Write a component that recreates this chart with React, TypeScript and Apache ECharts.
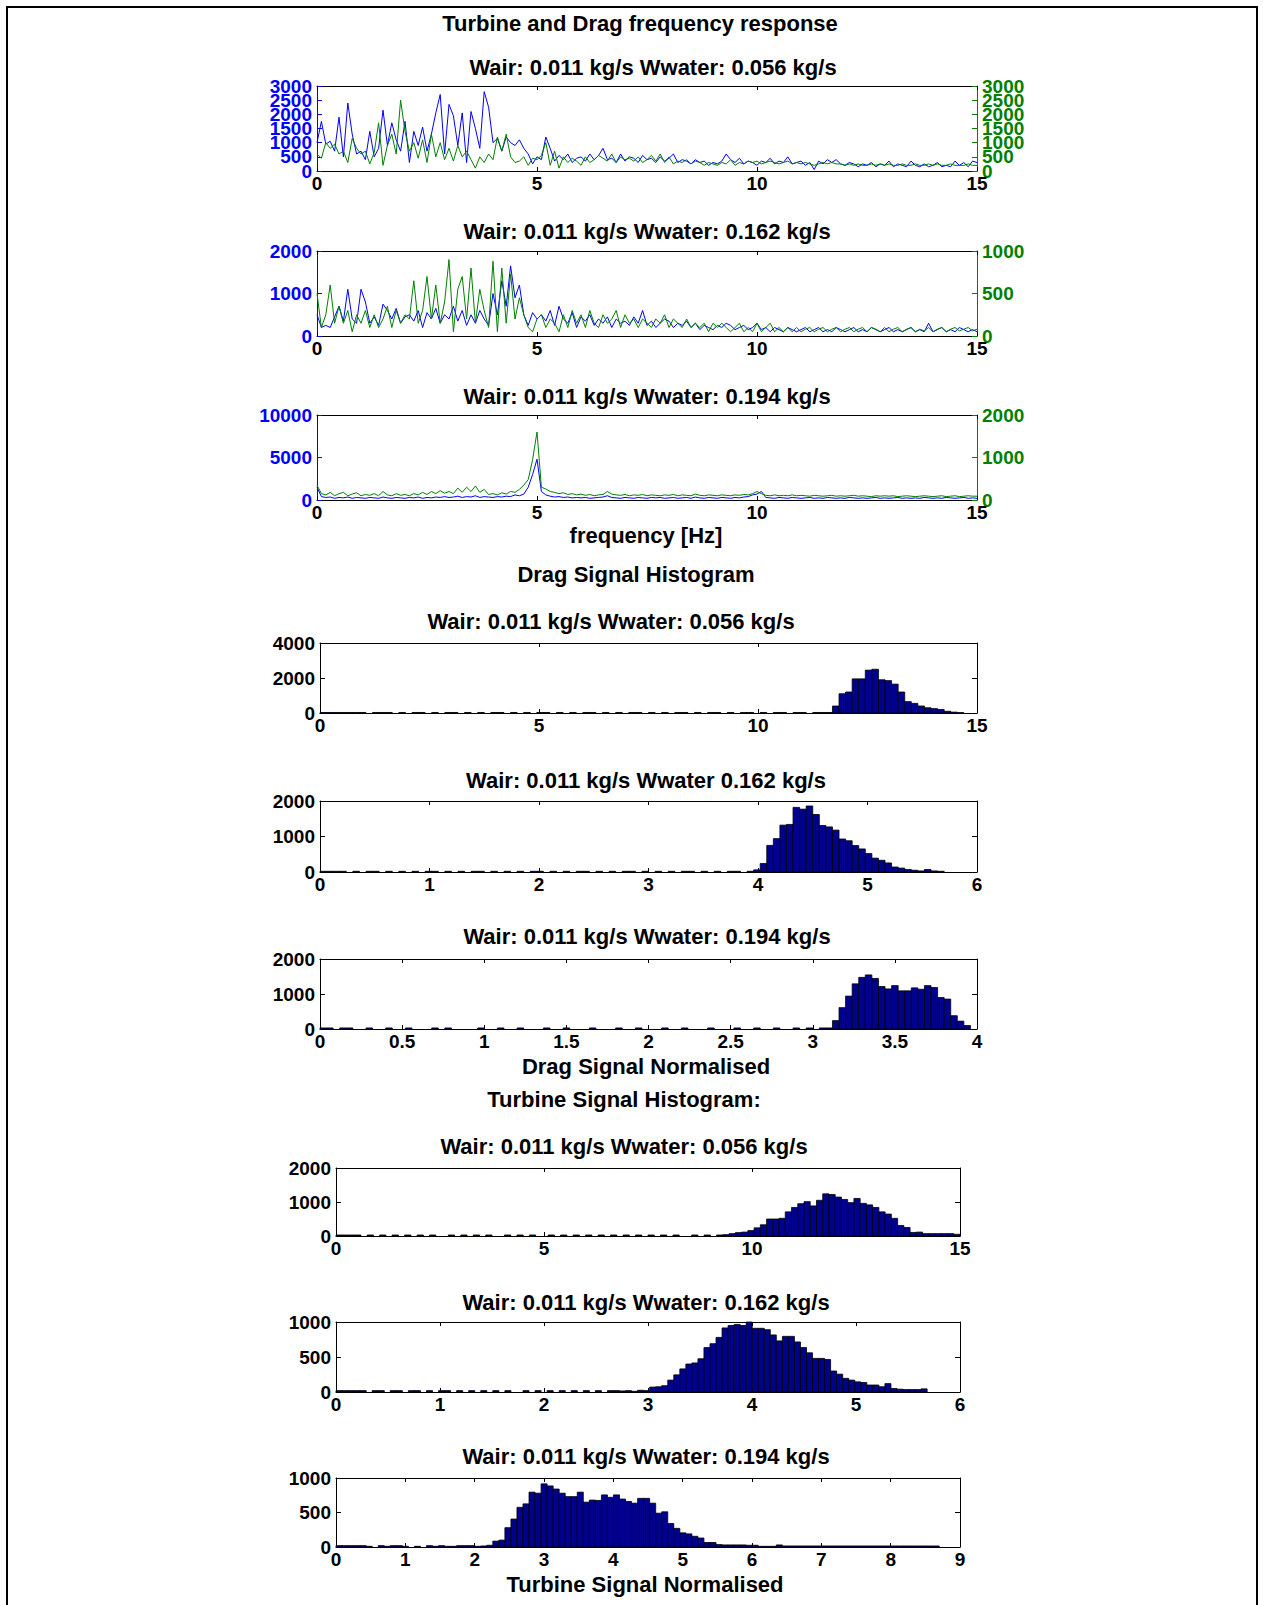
import React, { useEffect, useRef } from 'react';
import * as echarts from 'echarts';

// ---------------- DATA ----------------
const FREQ_STEP = 0.1; // Hz between spectrum samples (0..15 Hz)

// tick values of the dense first spectrum panel (both y axes)
const freq056Ticks = [0, 500, 1000, 1500, 2000, 2500, 3000];
const freq056LabelsA = [0, 1000, 2000, 3000];
const freq056LabelsB = [500, 1500, 2500];

const freq056Blue = [
  1000, 1750, 950, 1050, 700, 1900, 500, 2400, 1300, 600,
  700, 400, 1400, 500, 800, 2150, 900, 1700, 1100, 700,
  1750, 300, 1400, 900, 1550, 700, 1300, 2050, 2700, 600,
  2350, 1950, 900, 2050, 300, 2100, 1500, 800, 2800, 2250,
  1000, 1150, 700, 1200, 1000, 900, 1100, 800, 600, 250,
  500, 400, 1200, 800, 350, 550, 400, 600, 300, 450,
  500, 350, 600, 400, 550, 800, 400, 450, 300, 600,
  350, 500, 450, 300, 550, 400, 450, 300, 500, 350,
  450, 600, 300, 400, 350, 250, 400, 300, 350, 200,
  300, 250, 350, 600, 400, 300, 450, 250, 350, 300,
  200, 350, 300, 450, 250, 350, 300, 500, 250, 300,
  350, 200, 300, 50, 350, 250, 400, 300, 400, 250,
  200, 300, 250, 150, 250, 200, 300, 150, 250, 200,
  350, 150, 250, 200, 150, 350, 200, 150, 250, 150,
  200, 300, 150, 200, 150, 350, 200, 300, 150, 350,
  300,
];
const freq056Green = [
  600, 450, 1000, 800, 950, 600, 700, 300, 1150, 800,
  600, 700, 250, 650, 1700, 200, 900, 1300, 600, 2500,
  1400, 700, 1000, 450, 1100, 300, 1300, 500, 1000, 400,
  800, 350, 900, 500, 700, 400, 100, 500, 300, 600,
  400, 1200, 700, 1300, 500, 300, 350, 500, 200, 450,
  400, 550, 1000, 200, 700, 100, 500, 300, 450, 350,
  200, 500, 300, 400, 550, 450, 350, 600, 300, 500,
  400, 450, 350, 500, 300, 400, 550, 350, 600, 300,
  500, 250, 350, 300, 400, 250, 350, 300, 200, 300,
  250, 200, 300, 250, 400, 200, 300, 250, 350, 300,
  350, 250, 300, 350, 300, 250, 300, 350, 250, 300,
  250, 300, 250, 200, 250, 300, 250, 300, 250, 250,
  200, 250, 200, 250, 200, 200, 250, 200, 250, 200,
  250, 200, 200, 250, 200, 200, 250, 200, 200, 250,
  200, 250, 200, 200, 250, 200, 200, 200, 250, 200,
  200,
];

const freq162Blue = [
  500, 200, 250, 200, 450, 700, 350, 1100, 400, 300,
  1100, 800, 300, 450, 250, 750, 600, 400, 650, 300,
  450, 500, 350, 600, 200, 550, 400, 650, 300, 500,
  400, 700, 350, 600, 250, 500, 300, 600, 400, 250,
  1000, 500, 1300, 700, 1650, 900, 1200, 500, 250, 550,
  400, 500, 350, 600, 250, 700, 400, 300, 550, 200,
  450, 350, 500, 250, 400, 300, 450, 200, 400, 300,
  350, 250, 450, 300, 600, 250, 350, 200, 300, 400,
  350, 200, 300, 250, 350, 200, 300, 150, 250, 200,
  150, 250, 200, 300, 250, 150, 200, 250, 150, 200,
  300, 150, 200, 100, 200, 150, 100, 200, 150, 100,
  150, 200, 100, 150, 200, 100, 150, 100, 200, 150,
  100, 150, 200, 100, 150, 100, 200, 150, 100, 150,
  200, 100, 150, 100, 150, 200, 100, 150, 100, 300,
  100, 150, 200, 100, 150, 100, 200, 150, 100, 150,
  100,
];
const freq162Green = [
  500, 100, 250, 600, 150, 350, 150, 300, 50, 250,
  150, 300, 100, 250, 100, 200, 350, 100, 300, 150,
  250, 200, 650, 150, 300, 700, 200, 600, 150, 400,
  900, 50, 550, 700, 200, 800, 150, 550, 300, 100,
  880, 50, 800, 150, 730, 200, 450, 250, 100, 50,
  200, 250, 100, 200, 150, 50, 250, 100, 300, 150,
  250, 100, 300, 150, 100, 250, 150, 200, 300, 100,
  250, 150, 200, 100, 200, 150, 100, 200, 150, 250,
  100, 200, 150, 100, 200, 100, 150, 100, 150, 50,
  150, 100, 150, 100, 50, 100, 150, 50, 100, 50,
  150, 50, 100, 150, 50, 100, 50, 100, 50, 100,
  50, 80, 100, 50, 80, 100, 50, 80, 100, 50,
  80, 100, 50, 80, 100, 50, 100, 80, 50, 100,
  50, 80, 100, 50, 80, 100, 50, 80, 60, 100,
  50, 80, 100, 50, 80, 100, 60, 80, 100, 60,
  80,
];

const freq194Blue = [
  1500, 400, 300, 350, 200, 300, 250, 350, 200, 300,
  250, 200, 300, 250, 200, 350, 250, 200, 300, 250,
  200, 300, 250, 350, 200, 300, 250, 350, 300, 400,
  300, 350, 450, 300, 400, 350, 500, 300, 400, 350,
  300, 400, 350, 450, 400, 600, 500, 700, 1500, 3000,
  4800, 1000, 600, 450, 350, 400, 300, 350, 250, 300,
  250, 300, 200, 250, 300, 350, 500, 300, 250, 200,
  300, 250, 200, 300, 250, 200, 300, 250, 300, 200,
  250, 300, 200, 250, 300, 200, 350, 250, 200, 300,
  250, 200, 300, 250, 200, 300, 250, 350, 400, 600,
  700, 1000, 300, 250, 200, 300, 250, 200, 300, 250,
  200, 250, 300, 200, 250, 200, 300, 250, 200, 250,
  200, 300, 250, 200, 250, 200, 250, 300, 200, 250,
  200, 250, 300, 200, 250, 200, 250, 200, 300, 250,
  200, 250, 200, 300, 250, 200, 250, 300, 200, 250,
  200,
];
const freq194Green = [
  350, 150, 120, 180, 100, 150, 180, 100, 140, 170,
  100, 130, 110, 150, 100, 200, 120, 100, 150, 110,
  130, 100, 150, 120, 180, 130, 200, 150, 220, 160,
  200, 150, 280, 180, 300, 200, 330, 180, 250, 130,
  150, 120, 170, 140, 200, 180, 250, 350, 480, 950,
  1600, 300, 260, 200, 180, 150, 170, 130, 150, 120,
  140, 110, 130, 100, 120, 130, 200, 140, 120, 110,
  130, 100, 120, 110, 130, 100, 120, 110, 100, 120,
  110, 130, 100, 120, 110, 100, 140, 110, 100, 120,
  110, 100, 120, 110, 100, 120, 110, 130, 120, 150,
  200, 150, 110, 100, 120, 100, 110, 100, 120, 100,
  110, 100, 90, 110, 100, 90, 100, 110, 90, 100,
  90, 100, 110, 90, 100, 90, 80, 100, 90, 100,
  90, 100, 80, 90, 100, 90, 80, 90, 100, 90,
  80, 90, 100, 80, 90, 100, 80, 90, 100, 90,
  90,
];

// Histograms: counts per bin, bins start at 0
const dragHist056Width = 0.15;
const dragHist056Counts = [
  30, 30, 30, 30, 30, 30, 30, 0, 30, 30,
  30, 0, 30, 0, 30, 30, 0, 30, 0, 30,
  30, 0, 30, 0, 30, 0, 30, 30, 0, 30,
  0, 30, 0, 30, 30, 0, 30, 0, 30, 0,
  30, 30, 0, 30, 0, 30, 0, 30, 30, 0,
  30, 0, 30, 0, 30, 30, 0, 30, 0, 30,
  30, 0, 30, 0, 30, 30, 0, 30, 0, 30,
  30, 0, 30, 30, 0, 30, 30, 30, 400, 1100,
  1200, 1950, 1950, 2450, 2500, 1900, 1850, 1650, 1200, 650,
  550, 400, 300, 250, 200, 100, 50, 20, 0, 0,
];
const dragHist162Width = 0.06;
const dragHist162Counts = [
  20, 20, 20, 20, 0, 20, 0, 20, 20, 0,
  20, 0, 20, 0, 20, 0, 20, 20, 0, 20,
  0, 20, 0, 20, 20, 0, 20, 0, 20, 0,
  20, 0, 20, 20, 0, 20, 0, 20, 0, 20,
  20, 0, 20, 0, 20, 0, 20, 20, 0, 20,
  0, 20, 0, 20, 0, 20, 20, 0, 20, 0,
  20, 0, 20, 20, 0, 20, 60, 240, 750, 940,
  1320, 1340, 1820, 1770, 1860, 1620, 1310, 1270, 1180, 930,
  880, 745, 650, 520, 390, 330, 255, 140, 110, 70,
  50, 30, 70, 30, 20, 0, 0, 0, 0, 0,
];
const dragHist194Width = 0.04;
const dragHist194Counts = [
  30, 30, 0, 30, 30, 0, 0, 30, 0, 0,
  30, 0, 0, 30, 0, 0, 0, 30, 0, 30,
  0, 0, 0, 0, 30, 0, 0, 30, 0, 0,
  30, 0, 0, 0, 30, 0, 0, 30, 0, 0,
  0, 30, 0, 0, 0, 30, 0, 0, 30, 0,
  0, 0, 30, 0, 0, 30, 0, 0, 0, 30,
  0, 0, 0, 30, 0, 0, 30, 0, 0, 30,
  0, 0, 30, 0, 30, 0, 30, 30, 240, 610,
  940, 1290, 1475, 1545, 1445, 1215, 1145, 1240, 1090, 1090,
  1175, 1135, 1240, 1185, 900, 855, 380, 225, 100, 0,
];

const turbHist056Width = 0.15;
const turbHist056Counts = [
  30, 30, 30, 30, 0, 30, 0, 30, 0, 30,
  0, 30, 0, 30, 0, 30, 0, 0, 30, 0,
  30, 0, 30, 0, 30, 0, 0, 30, 0, 30,
  0, 30, 0, 0, 30, 0, 30, 0, 30, 0,
  30, 0, 30, 0, 30, 0, 30, 0, 30, 0,
  30, 0, 30, 0, 30, 0, 0, 30, 0, 30,
  0, 30, 40, 70, 100, 115, 160, 240, 330, 500,
  500, 520, 710, 840, 950, 1010, 885, 1050, 1240, 1220,
  1145, 1075, 980, 1105, 960, 915, 840, 710, 645, 520,
  310, 250, 105, 115, 70, 70, 70, 70, 70, 50,
];
const turbHist162Width = 0.058;
const turbHist162Counts = [
  20, 20, 20, 20, 20, 0, 20, 20, 0, 20,
  20, 0, 20, 20, 0, 20, 0, 20, 20, 0,
  20, 0, 20, 0, 20, 0, 20, 0, 20, 0,
  0, 20, 0, 20, 0, 20, 0, 20, 0, 20,
  0, 20, 0, 20, 0, 20, 20, 15, 20, 10,
  25, 20, 70, 75, 90, 170, 245, 330, 400, 415,
  475, 635, 690, 780, 915, 950, 965, 950, 1000, 910,
  910, 890, 815, 730, 795, 795, 715, 635, 560, 480,
  480, 465, 300, 255, 195, 170, 145, 135, 100, 100,
  75, 120, 50, 40, 35, 35, 35, 45, 0, 0,
];
const turbHist194Width = 0.087;
const turbHist194Counts = [
  20, 20, 20, 20, 20, 10, 0, 20, 10, 20,
  20, 10, 0, 10, 0, 20, 10, 20, 10, 10,
  20, 20, 20, 10, 15, 25, 85, 100, 280, 405,
  575, 625, 795, 780, 915, 885, 840, 780, 730, 730,
  795, 650, 680, 675, 755, 720, 755, 695, 660, 635,
  705, 705, 635, 490, 510, 340, 270, 205, 190, 155,
  130, 65, 65, 35, 30, 30, 30, 30, 25, 25,
  10, 10, 10, 30, 15, 15, 15, 15, 15, 15,
  15, 15, 15, 15, 15, 15, 15, 15, 15, 15,
  15, 15, 15, 15, 15, 15, 15, 15, 15, 15,
];

const titles = {
  main: 'Turbine and Drag frequency response',
  f056: 'Wair: 0.011 kg/s Wwater: 0.056 kg/s',
  f162: 'Wair: 0.011 kg/s Wwater: 0.162 kg/s',
  f194: 'Wair: 0.011 kg/s Wwater: 0.194 kg/s',
  freqLabel: 'frequency [Hz]',
  drag: 'Drag Signal Histogram',
  d056: 'Wair: 0.011 kg/s Wwater: 0.056 kg/s',
  d162: 'Wair: 0.011 kg/s Wwater 0.162 kg/s',
  d194: 'Wair: 0.011 kg/s Wwater: 0.194 kg/s',
  dragLabel: 'Drag Signal Normalised',
  turb: 'Turbine Signal Histogram:',
  t056: 'Wair: 0.011 kg/s Wwater: 0.056 kg/s',
  t162: 'Wair: 0.011 kg/s Wwater: 0.162 kg/s',
  t194: 'Wair: 0.011 kg/s Wwater: 0.194 kg/s',
  turbLabel: 'Turbine Signal Normalised',
};

// ---------------- STYLE ----------------
const FONT = '"Liberation Sans", Arial, Helvetica, sans-serif';
const BLUE = '#0000ff';
const GREEN = '#008000';
const BAR = '#00008f';
const TICK_FS = 19;
const TITLE_FS = 22;

const plain = (v: number) => String(v);

type SplitLabels = { ticks: number[]; a: number[]; b: number[] } | null;

function buildOption() {
  const grids: any[] = [];
  const xAxes: any[] = [];
  const yAxes: any[] = [];
  const series: any[] = [];

  const xAxisDef = (g: number, max: number, interval: number, pos: 'top' | 'bottom') => ({
    gridIndex: g,
    type: 'value',
    min: 0,
    max,
    interval,
    position: pos,
    axisLine: { show: true, onZero: false, lineStyle: { color: '#000', width: 1 } },
    axisTick: { show: true, inside: true, length: 4, lineStyle: { color: '#000', width: 1 } },
    axisLabel: {
      show: pos === 'bottom',
      color: '#000',
      fontWeight: 'bold',
      fontSize: TICK_FS,
      fontFamily: FONT,
      margin: 3,
      showMinLabel: true,
      showMaxLabel: true,
      formatter: plain,
    },
    splitLine: { show: false },
  });

  const yAxisDef = (
    g: number,
    max: number,
    interval: number,
    pos: 'left' | 'right',
    color: string,
    labels: boolean,
  ) => ({
    gridIndex: g,
    type: 'value',
    min: 0,
    max,
    interval,
    position: pos,
    axisLine: { show: true, onZero: false, lineStyle: { color, width: 1 } },
    axisTick: { show: true, inside: true, length: 5, lineStyle: { color, width: 1 } },
    axisLabel: {
      show: labels,
      color,
      fontWeight: 'bold',
      fontSize: TICK_FS,
      fontFamily: FONT,
      margin: 5,
      showMinLabel: true,
      showMaxLabel: true,
      hideOverlap: false,
      formatter: plain,
    },
    splitLine: { show: false },
  });

  // y axes whose labels are split over two stacked axes (so that none is dropped)
  const pushYAxes = (
    g: number,
    max: number,
    interval: number,
    pos: 'left' | 'right',
    color: string,
    split: SplitLabels,
  ) => {
    const idx = yAxes.length;
    if (!split) {
      yAxes.push(yAxisDef(g, max, interval, pos, color, true));
      return idx;
    }
    const main: any = yAxisDef(g, max, interval, pos, color, true);
    main.axisLabel = { ...main.axisLabel, customValues: split.a };
    main.axisTick = { ...main.axisTick, customValues: split.ticks };
    yAxes.push(main);
    const aux: any = yAxisDef(g, max, interval, pos, color, true);
    aux.axisLine = { show: false };
    aux.axisTick = { show: false };
    aux.axisLabel = { ...aux.axisLabel, customValues: split.b };
    yAxes.push(aux);
    return idx;
  };

  const addFreq = (
    box: { left: number; top: number; width: number; height: number },
    blue: number[],
    green: number[],
    blueMax: number,
    blueInt: number,
    greenMax: number,
    greenInt: number,
    split: SplitLabels = null,
  ) => {
    const g = grids.length;
    grids.push({ ...box, containLabel: false });
    const xi = xAxes.length;
    xAxes.push(xAxisDef(g, 15, 5, 'bottom'));
    xAxes.push(xAxisDef(g, 15, 5, 'top'));
    const yl = pushYAxes(g, blueMax, blueInt, 'left', BLUE, split);
    const yr = pushYAxes(g, greenMax, greenInt, 'right', GREEN, split);
    series.push({
      type: 'line',
      xAxisIndex: xi,
      yAxisIndex: yl,
      data: blue.map((v, i) => [i * FREQ_STEP, v]),
      showSymbol: false,
      symbol: 'none',
      lineStyle: { color: BLUE, width: 1 },
      itemStyle: { color: BLUE },
      silent: true,
      z: 2,
    });
    series.push({
      type: 'line',
      xAxisIndex: xi,
      yAxisIndex: yr,
      data: green.map((v, i) => [i * FREQ_STEP, v]),
      showSymbol: false,
      symbol: 'none',
      lineStyle: { color: GREEN, width: 1 },
      itemStyle: { color: GREEN },
      silent: true,
      z: 3,
    });
  };

  const addHist = (
    box: { left: number; top: number; width: number; height: number },
    counts: number[],
    width: number,
    xMax: number,
    xInt: number,
    yMax: number,
    yInt: number,
  ) => {
    const g = grids.length;
    grids.push({ ...box, containLabel: false });
    const xi = xAxes.length;
    xAxes.push(xAxisDef(g, xMax, xInt, 'bottom'));
    xAxes.push(xAxisDef(g, xMax, xInt, 'top'));
    const yi = yAxes.length;
    yAxes.push(yAxisDef(g, yMax, yInt, 'left', '#000', true));
    yAxes.push(yAxisDef(g, yMax, yInt, 'right', '#000', false));
    series.push({
      type: 'custom',
      xAxisIndex: xi,
      yAxisIndex: yi,
      silent: true,
      clip: false,
      encode: { x: [0, 1], y: 2 },
      data: counts.map((c, i) => [i * width, (i + 1) * width, c]),
      renderItem: (_params: any, api: any) => {
        const c = api.value(2);
        if (!c) return { type: 'group', children: [] };
        const p0 = api.coord([api.value(0), c]);
        const p1 = api.coord([api.value(1), 0]);
        return {
          type: 'rect',
          shape: { x: p0[0], y: p0[1], width: p1[0] - p0[0], height: p1[1] - p0[1] },
          style: { fill: BAR, stroke: '#000', lineWidth: 0.8 },
        };
      },
      z: 2,
    });
  };

  addFreq({ left: 317, top: 86, width: 660, height: 85 }, freq056Blue, freq056Green, 3000, 500, 3000, 500, {
    ticks: freq056Ticks,
    a: freq056LabelsA,
    b: freq056LabelsB,
  });
  addFreq({ left: 317, top: 251, width: 660, height: 85 }, freq162Blue, freq162Green, 2000, 1000, 1000, 500);
  addFreq({ left: 317, top: 415, width: 660, height: 85 }, freq194Blue, freq194Green, 10000, 5000, 2000, 1000);

  addHist({ left: 320, top: 643, width: 657, height: 70 }, dragHist056Counts, dragHist056Width, 15, 5, 4000, 2000);
  addHist({ left: 320, top: 801, width: 657, height: 71 }, dragHist162Counts, dragHist162Width, 6, 1, 2000, 1000);
  addHist({ left: 320, top: 959, width: 657, height: 70 }, dragHist194Counts, dragHist194Width, 4, 0.5, 2000, 1000);

  addHist({ left: 336, top: 1168, width: 624, height: 68 }, turbHist056Counts, turbHist056Width, 15, 5, 2000, 1000);
  addHist({ left: 336, top: 1322, width: 624, height: 70 }, turbHist162Counts, turbHist162Width, 6, 1, 1000, 500);
  addHist({ left: 336, top: 1478, width: 624, height: 69 }, turbHist194Counts, turbHist194Width, 9, 1, 1000, 500);

  const txt = (text: string, x: number, y: number, size = TITLE_FS) => ({
    type: 'text',
    x,
    y,
    silent: true,
    style: {
      text,
      fill: '#000',
      fontSize: size,
      fontWeight: 'bold',
      fontFamily: FONT,
      align: 'center',
      verticalAlign: 'middle',
      textAlign: 'center',
      textVerticalAlign: 'middle',
    },
  });

  const graphic = [
    {
      type: 'rect',
      silent: true,
      shape: { x: 7, y: 7, width: 1250, height: 1700 },
      style: { fill: 'none', stroke: '#000', lineWidth: 2 },
    },
    txt(titles.main, 640, 23),
    txt(titles.f056, 653, 67),
    txt(titles.f162, 647, 231),
    txt(titles.f194, 647, 396),
    txt(titles.freqLabel, 646, 535),
    txt(titles.drag, 636, 574),
    txt(titles.d056, 611, 621),
    txt(titles.d162, 646, 780),
    txt(titles.d194, 647, 936),
    txt(titles.dragLabel, 646, 1066),
    txt(titles.turb, 624, 1099),
    txt(titles.t056, 624, 1146),
    txt(titles.t162, 646, 1302),
    txt(titles.t194, 646, 1456),
    txt(titles.turbLabel, 645, 1584),
  ];

  return {
    animation: false,
    backgroundColor: '#fff',
    grid: grids,
    xAxis: xAxes,
    yAxis: yAxes,
    series,
    graphic,
  };
}

export default function App() {
  const ref = useRef<HTMLDivElement>(null);
  useEffect(() => {
    if (!ref.current) return;
    const chart = echarts.init(ref.current, undefined, { renderer: 'svg' });
    chart.setOption(buildOption() as any);
    return () => chart.dispose();
  }, []);
  return (
    <div
      ref={ref}
      style={{ position: 'absolute', left: 0, top: 0, width: 1263, height: 1605, background: '#fff' }}
    />
  );
}
